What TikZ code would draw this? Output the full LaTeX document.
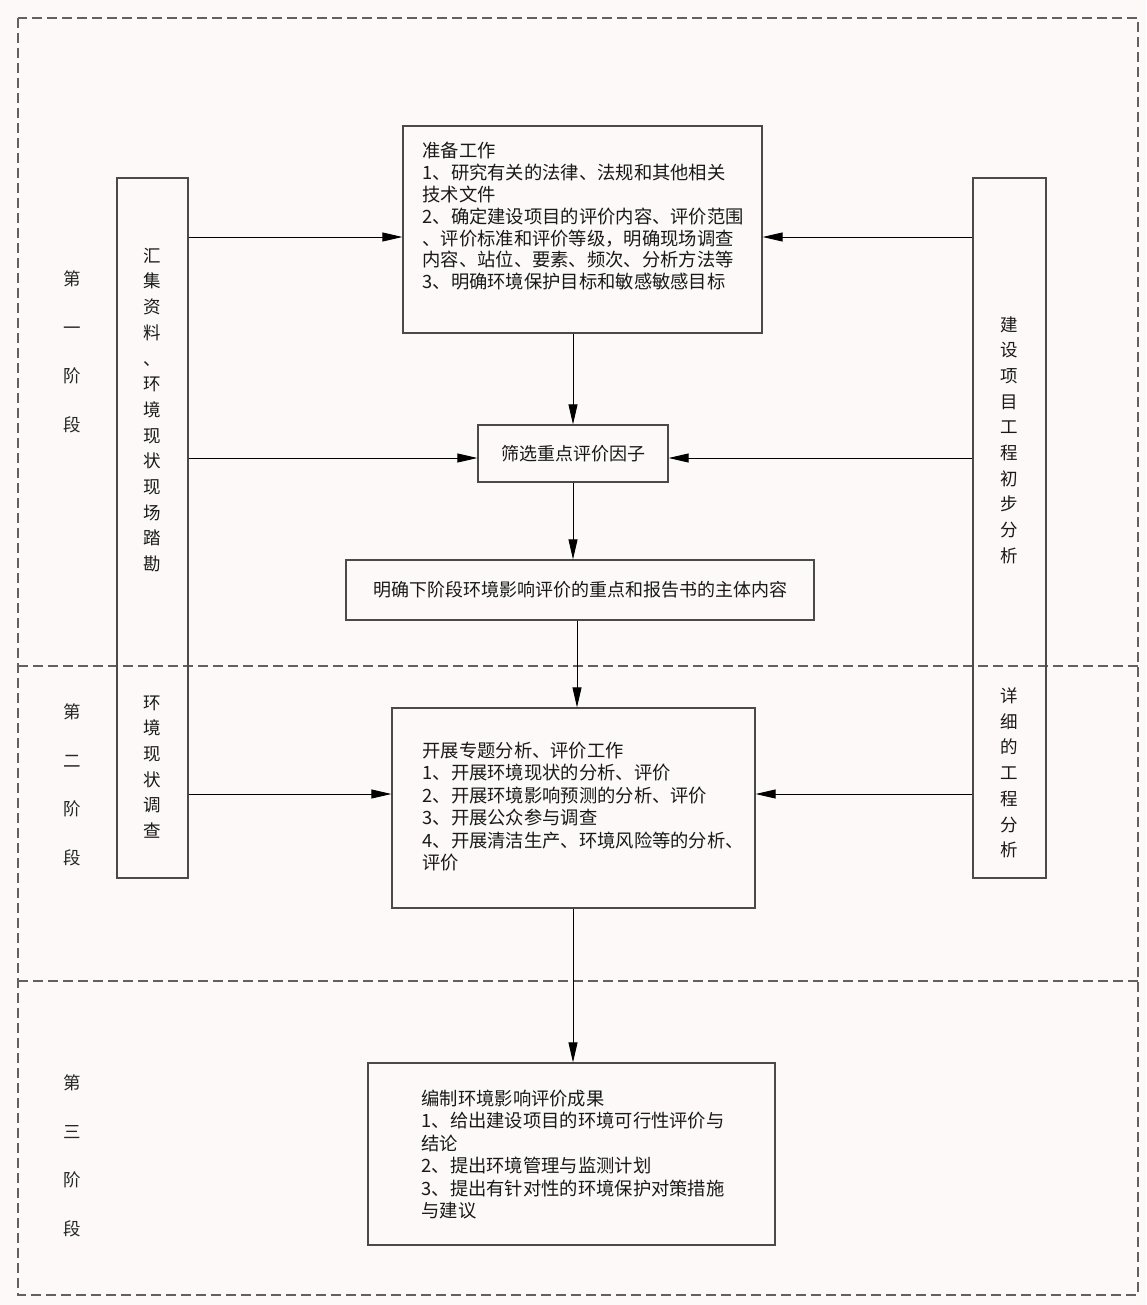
\documentclass[tikz,border=0pt]{standalone}
\usepackage{fontspec}
\newfontfamily\cjk{Noto Sans CJK SC}
\usetikzlibrary{arrows.meta,positioning,calc}
\definecolor{bgcol}{HTML}{FCF9F8}
\definecolor{boxcol}{HTML}{4A4A4A}
\tikzset{
    stage frame/.style = {
        draw = black!62,
        line width = 1.4pt,
        dash pattern = on 10pt off 5pt,
        },
    workbox/.style = {
        draw = boxcol,
        line width = 1.3pt,
        inner sep = 0pt,
        },
    boxtext/.style = {
        font = \cjk\fontsize{18.3}{22.4}\selectfont,
        align = left,
        inner sep = 0pt,
        anchor = north west,
        text = black!90,
        },
    vtext/.style = {
        font = \cjk\fontsize{17.5}{25.7}\selectfont,
        align = center,
        inner sep = 0pt,
        text = black!90,
        },
    stage/.style = {
        font = \cjk\fontsize{17.5}{48.5}\selectfont,
        align = center,
        inner sep = 0pt,
        text = black!85,
        },
    arr/.style = {
        -{Triangle[length=20pt,width=9pt]},
        line width = 0.9pt,
        },
}
\begin{document}
\begin{tikzpicture}[x=1pt, y=-1pt]

    \fill[bgcol] (0,0) rectangle (1146,1305);
    \useasboundingbox (0,0) rectangle (1146,1305);

    % stage frames
    \draw[stage frame] (18,18) rectangle (1138,1295);
    \draw[stage frame] (18,666) -- (1138,666);
    \draw[stage frame] (18,981) -- (1138,981);

    \node[stage] (st1) at (72,352) {第\\一\\阶\\段};
    \node[stage] (st2) at (72,785) {第\\二\\阶\\段};
    \node[stage] (st3) at (72,1156) {第\\三\\阶\\段};

    % side columns
    \node[workbox, minimum width=71pt, minimum height=700pt] (survey) at (152.5,528) {};
    \node[workbox, minimum width=73pt, minimum height=700pt] (proj) at (1009.5,528) {};

    \node[vtext] (survey1) at (152.5,410) {汇\\集\\资\\料\\、\\环\\境\\现\\状\\现\\场\\踏\\勘};
    \node[vtext] (survey2) at (152.5,767) {环\\境\\现\\状\\调\\查};
    \node[vtext] (proj1) at (1009.5,440) {建\\设\\项\\目\\工\\程\\初\\步\\分\\析};
    \node[vtext] (proj2) at (1009.5,773) {详\\细\\的\\工\\程\\分\\析};

    % main boxes
    \node[workbox, minimum width=359pt, minimum height=207pt] (prep) at (582.5,229.5) {};
    \node[boxtext, font=\cjk\fontsize{18.3}{21.8}\selectfont] (preptxt) at ([shift={(20pt,-17pt)}]prep.north west)
        {准备工作\\1、研究有关的法律、法规和其他相关\\技术文件\\2、确定建设项目的评价内容、评价范围\\、评价标准和评价等级，明确现场调查\\内容、站位、要素、频次、分析方法等\\3、明确环境保护目标和敏感敏感目标};

    \node[workbox, minimum width=190pt, minimum height=57pt,
          font=\cjk\fontsize{18}{22}\selectfont, text=black!90] (screen) at (573,453.5) {筛选重点评价因子};

    \node[workbox, minimum width=468pt, minimum height=60pt,
          font=\cjk\fontsize{18}{22}\selectfont, text=black!90] (focus) at (580,590) {明确下阶段环境影响评价的重点和报告书的主体内容};

    \node[workbox, minimum width=363pt, minimum height=200pt] (work) at (573.5,808) {};
    \node[boxtext] (worktxt) at ([shift={(31pt,-34.5pt)}]work.north west)
        {开展专题分析、评价工作\\1、开展环境现状的分析、评价\\2、开展环境影响预测的分析、评价\\3、开展公众参与调查\\4、开展清洁生产、环境风险等的分析、\\评价};

    \node[workbox, minimum width=407pt, minimum height=182pt] (result) at (571.5,1154) {};
    \node[boxtext] (resulttxt) at ([shift={(54pt,-27.5pt)}]result.north west)
        {编制环境影响评价成果\\1、给出建设项目的环境可行性评价与\\结论\\2、提出环境管理与监测计划\\3、提出有针对性的环境保护对策措施\\与建议};

    % connectors
    \draw[arr] (survey.east |- 0,237) -- (prep.west |- 0,237);
    \draw[arr] (proj.west |- 0,237) -- (prep.east |- 0,237);
    \draw[arr] (prep.south -| screen.north) -- (screen.north);
    \draw[arr] (survey.east |- 0,458) -- (screen.west |- 0,458);
    \draw[arr] (proj.west |- 0,458) -- (screen.east |- 0,458);
    \draw[arr] (screen.south) -- (screen.south |- focus.north);
    \draw[arr] (focus.south -| 577,0) -- (work.north -| 577,0);
    \draw[arr] (survey.east |- 0,794) -- (work.west |- 0,794);
    \draw[arr] (proj.west |- 0,794) -- (work.east |- 0,794);
    \draw[arr] (work.south -| 573,0) -- (result.north -| 573,0);

\end{tikzpicture}
\end{document}
